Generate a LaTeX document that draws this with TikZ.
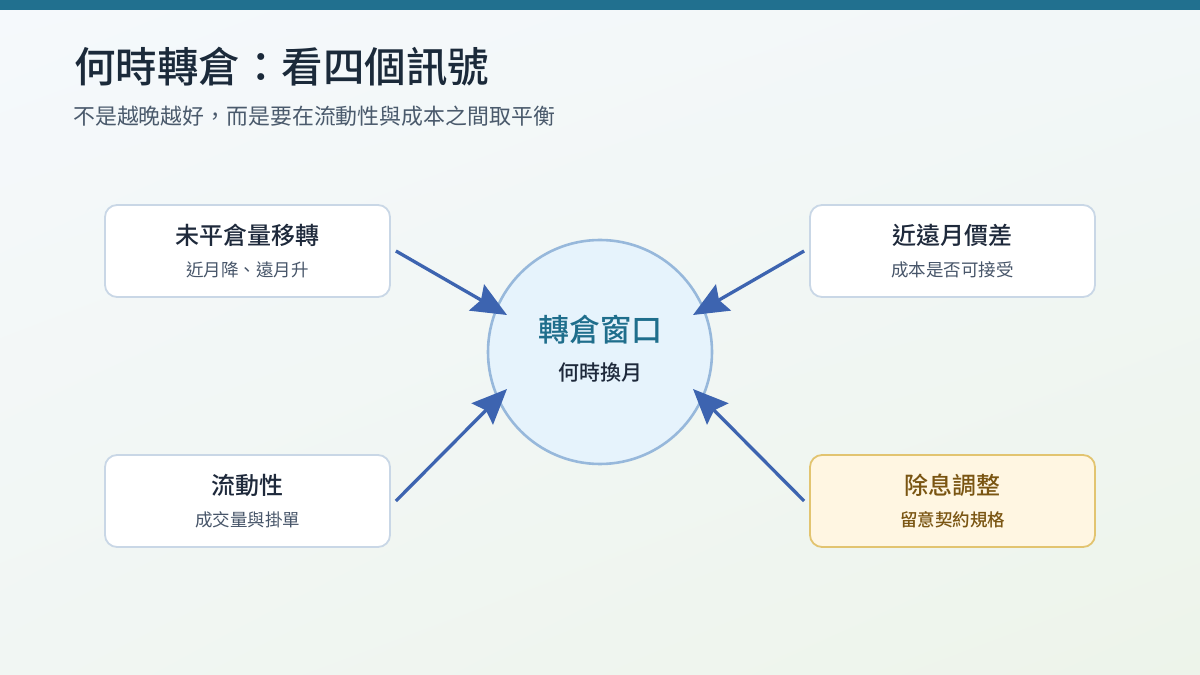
\documentclass[tikz,border=0pt]{standalone}
\usepackage{fontspec}
\setmainfont{Noto Sans CJK TC}
\newfontfamily\medfont{Noto Sans CJK TC Medium}
\usetikzlibrary{arrows.meta,calc,shadings}
\definecolor{bar}{HTML}{21708F}
\definecolor{bgA}{HTML}{F5F9FC}
\definecolor{bgB}{HTML}{F2F7F8}
\definecolor{bgC}{HTML}{F1F6F3}
\definecolor{bgD}{HTML}{EDF4EA}
\definecolor{titlec}{HTML}{1B2A3A}
\definecolor{subc}{HTML}{4A5A6C}
\definecolor{boxb}{HTML}{C9D7E6}
\definecolor{boxt}{HTML}{1E293B}
\definecolor{boxs}{HTML}{475569}
\definecolor{warnf}{HTML}{FFF6E2}
\definecolor{warnb}{HTML}{E2C470}
\definecolor{warnt}{HTML}{7A5512}
\definecolor{circf}{HTML}{E6F3FC}
\definecolor{circb}{HTML}{97B8DB}
\definecolor{circt}{HTML}{1F6E8C}
\definecolor{arr}{HTML}{3D64B0}
\tikzset{
  card/.style={draw=boxb, line width=1.8pt, fill=white, rounded corners=12pt,
    minimum width=285pt, minimum height=92pt, inner sep=0pt},
  warncard/.style={card, draw=warnb, fill=warnf},
  cardtitle/.style={font=\fontsize{24}{28}\selectfont\medfont, text=boxt, inner sep=0pt},
  cardsub/.style={font=\fontsize{17.5}{20}\selectfont, text=boxs, inner sep=0pt},
  feed/.style={draw=arr, line width=3.3pt, -{Stealth[length=35pt,width=30pt,inset=5pt]}},
}
\begin{document}
\begin{tikzpicture}[x=1pt,y=1pt]
\useasboundingbox (0,0) rectangle (1200,675);
\shade[upper left=bgA, upper right=bgB, lower left=bgC, lower right=bgD] (0,0) rectangle (1200,675);
\fill[bar] (0,665) rectangle (1200,675);
% title
\node[anchor=west, inner sep=0pt, text=titlec, font=\fontsize{41.5}{46}\selectfont\medfont] (title) at (74,608) {何時轉倉：看四個訊號};
\node[anchor=west, inner sep=0pt, text=subc, font=\fontsize{21.9}{26}\selectfont] (subtitle) at (73,559) {不是越晚越好，而是要在流動性與成本之間取平衡};
% center
\node[circle, draw=circb, line width=2.6pt, fill=circf, minimum size=224pt, inner sep=0pt] (c) at (600,323) {};
\node[text=circt, font=\fontsize{31}{34}\selectfont\medfont, inner sep=0pt] (ct) at (600,345) {轉倉窗口};
\node[text=boxt, font=\fontsize{21}{24}\selectfont\medfont, inner sep=0pt] (cs) at (600,302) {何時換月};
% cards
\node[card] (b1) at (247.5,424) {};
\node[cardtitle] (b1t) at (247.5,440) {未平倉量移轉};
\node[cardsub] (b1s) at (247.5,405) {近月降、遠月升};
\node[card] (b2) at (952.5,424) {};
\node[cardtitle] (b2t) at (952.5,440) {近遠月價差};
\node[cardsub] (b2s) at (952.5,405) {成本是否可接受};
\node[card] (b3) at (247.5,174) {};
\node[cardtitle] (b3t) at (247.5,190) {流動性};
\node[cardsub] (b3s) at (247.5,155) {成交量與掛單};
\node[warncard] (b4) at (952.5,174) {};
\node[cardtitle, text=warnt] (b4t) at (952.5,190) {除息調整};
\node[cardsub, text=warnt, font=\fontsize{17.5}{20}\selectfont\medfont] (b4s) at (952.5,155) {留意契約規格};
% arrows
\draw[feed] ([xshift=5pt]b1.east) -- ($(c.center)+(-93,37)$);
\draw[feed] ([xshift=-5pt]b2.west) -- ($(c.center)+(93,37)$);
\draw[feed] ([xshift=5pt]b3.east) -- ($(c.center)+(-93,-37)$);
\draw[feed] ([xshift=-5pt]b4.west) -- ($(c.center)+(93,-37)$);
\end{tikzpicture}
\end{document}
